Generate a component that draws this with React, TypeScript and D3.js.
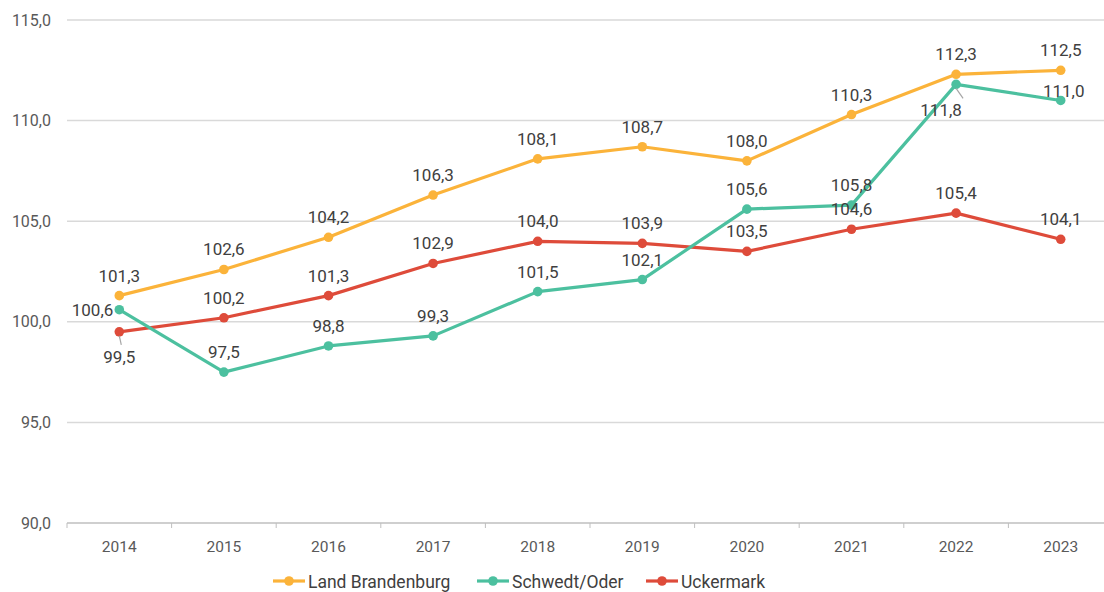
import React from 'react'
import * as d3 from 'd3'

const years = ['2014', '2015', '2016', '2017', '2018', '2019', '2020', '2021', '2022', '2023']
const brandenburg = [101.3, 102.6, 104.2, 106.3, 108.1, 108.7, 108.0, 110.3, 112.3, 112.5]
const schwedt = [100.6, 97.5, 98.8, 99.3, 101.5, 102.1, 105.6, 105.8, 111.8, 111.0]
const uckermark = [99.5, 100.2, 101.3, 102.9, 104.0, 103.9, 103.5, 104.6, 105.4, 104.1]
const yTicks = [90, 95, 100, 105, 110, 115]

// where each data label sits relative to its point
const schwedtPos = ['left', 'above', 'above', 'above', 'above', 'above', 'above', 'above', 'belowLeft', 'aboveRight']
const uckermarkPos = ['below', 'above', 'above', 'above', 'above', 'above', 'above', 'above', 'above', 'above']
const brandenburgPos = years.map(() => 'above')

const series = [
  { name: 'Land Brandenburg', color: '#FBB33A', values: brandenburg, pos: brandenburgPos },
  { name: 'Schwedt/Oder', color: '#4CC09F', values: schwedt, pos: schwedtPos },
  { name: 'Uckermark', color: '#DE4B3A', values: uckermark, pos: uckermarkPos },
]

const W = 1104
const H = 592
const font = 'Roboto, "DejaVu Sans", sans-serif'
const fmt = (v: number) => v.toFixed(1).replace('.', ',')

export default function App() {
  const x = d3.scaleBand().domain(years).range([67, 1113])
  const y = d3.scaleLinear().domain([90, 115]).range([523, 20])
  const cx = (yr: string) => (x(yr) as number) + x.bandwidth() / 2
  const line = d3.line<number>().x((_, i) => cx(years[i])).y(v => y(v))
  const drawOrder = [series[2], series[1], series[0]]

  const labelFor = (v: number, i: number, pos: string) => {
    const px = cx(years[i])
    const py = y(v)
    if (pos === 'left') return { x: px - 6, y: py + 6, anchor: 'end', lead: null }
    if (pos === 'below') return { x: px, y: py + 31, anchor: 'middle', lead: [px, py + 4, px + 2, py + 13] }
    if (pos === 'belowLeft') return { x: px - 15, y: py + 32, anchor: 'middle', lead: [px, py + 4, px + 7, py + 14] }
    if (pos === 'aboveRight') return { x: px + 3, y: py - 3, anchor: 'middle', lead: null }
    return { x: px, y: py - 14, anchor: 'middle', lead: null }
  }

  const legendX = [273, 477, 646]

  return (
    <svg width={W} height={H} style={{ position: 'absolute', left: 0, top: 0, fontFamily: font }}>
      <rect width={W} height={H} fill="#fff" />
      {yTicks.slice(1).map(t => (
        <line key={t} x1={67} x2={W} y1={y(t)} y2={y(t)} stroke="#d9d9d9" strokeWidth={1.5} />
      ))}
      <line x1={67} x2={W} y1={y(90)} y2={y(90)} stroke="#bfbfbf" strokeWidth={1.5} />
      {years.map(yr => (
        <line key={yr} x1={x(yr)} x2={x(yr)} y1={523} y2={528} stroke="#bfbfbf" />
      ))}
      {yTicks.map(t => (
        <text key={t} x={51} y={y(t) + 5.5} textAnchor="end" fontSize={16} fill="#595959">{fmt(t)}</text>
      ))}
      {years.map(yr => (
        <text key={yr} x={cx(yr)} y={552} textAnchor="middle" fontSize={15.5} fill="#595959">{yr}</text>
      ))}
      {drawOrder.map(s => (
        <g key={s.name}>
          <path d={line(s.values) || ''} fill="none" stroke={s.color} strokeWidth={3.2} strokeLinejoin="round" />
          {s.values.map((v, i) => (
            <circle key={i} cx={cx(years[i])} cy={y(v)} r={4.8} fill={s.color} />
          ))}
        </g>
      ))}
      {series.map(s => (
        <g key={s.name + 'lbl'}>
          {s.values.map((v, i) => {
            const l = labelFor(v, i, s.pos[i])
            return (
              <g key={i}>
                {l.lead && <line x1={l.lead[0]} y1={l.lead[1]} x2={l.lead[2]} y2={l.lead[3]} stroke="#a6a6a6" strokeWidth={1.2} />}
                <text x={l.x} y={l.y} textAnchor={l.anchor as any} fontSize={17} fill="#404040">{fmt(v)}</text>
              </g>
            )
          })}
        </g>
      ))}
      {series.map((s, i) => (
        <g key={s.name + 'leg'} transform={`translate(${legendX[i]},581)`}>
          <line x1={0} x2={32} y1={0} y2={0} stroke={s.color} strokeWidth={3.2} />
          <circle cx={16} cy={0} r={4.8} fill={s.color} />
          <text x={35} y={6.5} fontSize={17.5} fill="#404040">{s.name}</text>
        </g>
      ))}
    </svg>
  )
}
